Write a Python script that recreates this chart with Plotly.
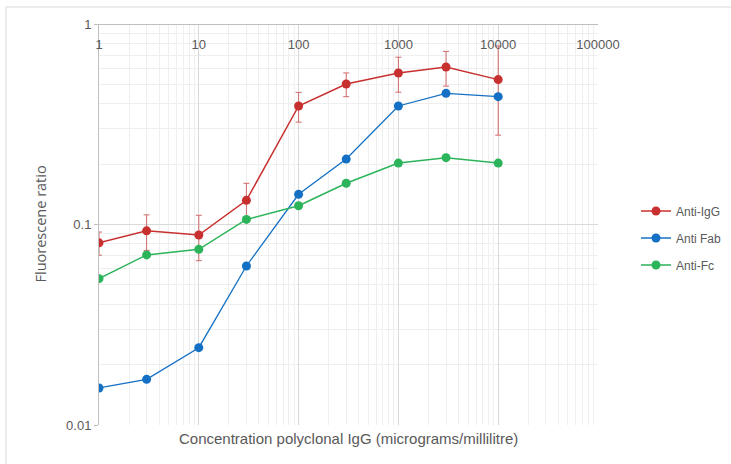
import plotly.graph_objects as go

concentration = [1, 3, 10, 30, 100, 300, 1000, 3000, 10000]
anti_igg = [0.081, 0.093, 0.0886, 0.132, 0.39, 0.502, 0.57, 0.61, 0.528]
anti_igg_err = [0.0107, 0.0187, 0.0226, 0.0285, 0.066, 0.068, 0.113, 0.12, 0.249]
anti_fab = [0.0153, 0.0169, 0.0243, 0.0621, 0.1414, 0.212, 0.390, 0.451, 0.434]
anti_fc = [0.0537, 0.0705, 0.0752, 0.106, 0.124, 0.1605, 0.2025, 0.2155, 0.2025]

x_ticks = [1, 10, 100, 1000, 10000, 100000]
x_tick_labels = ["1", "10", "100", "1000", "10000", "100000"]
y_ticks = [0.01, 0.1, 1]
y_tick_labels = ["0.01", "0.1", "1"]

RED = "#c8302f"
BLUE = "#1470c4"
GREEN = "#2bb45a"

fig = go.Figure()
fig.add_trace(go.Scatter(
    x=concentration, y=anti_igg, name="Anti-IgG", mode="lines+markers",
    line=dict(color=RED, width=1.5), marker=dict(color=RED, size=9),
    error_y=dict(type="data", array=anti_igg_err, visible=True,
                 color="#d06a6a", thickness=1, width=3),
    legendgroup="a",
))
fig.add_trace(go.Scatter(
    x=concentration, y=anti_fab, name="Anti Fab", mode="lines+markers",
    line=dict(color=BLUE, width=1.3), marker=dict(color=BLUE, size=9),
    legendgroup="b",
))
fig.add_trace(go.Scatter(
    x=concentration, y=anti_fc, name="Anti-Fc", mode="lines+markers",
    line=dict(color=GREEN, width=1.5), marker=dict(color=GREEN, size=9),
    legendgroup="c",
))

L, R, T, B = 99, 133, 24, 39
W, H = 731, 464
pw, ph = W - L - R, H - T - B

def px_x(p):
    return (p - L) / pw

def px_y(p):
    return (H - B - p) / ph

fig.update_layout(
    width=W, height=H,
    margin=dict(l=L, r=R, t=T, b=B, autoexpand=False),
    paper_bgcolor="white", plot_bgcolor="white",
    font=dict(family="Liberation Sans", size=13, color="#595959"),
    showlegend=True,
    legend=dict(
        x=px_x(636), y=px_y(238), xanchor="left", yanchor="middle",
        font=dict(size=12, color="#595959"),
        traceorder="grouped", tracegroupgap=8,
        bgcolor="rgba(0,0,0,0)",
    ),
    xaxis=dict(
        type="log", range=[0, 5], side="bottom", anchor="free", position=1,
        automargin=False,
        tickmode="array", tickvals=x_ticks, ticktext=x_tick_labels,
        showline=True, linecolor="#bfbfbf", linewidth=1,
        showgrid=True, gridcolor="#d9d9d9", gridwidth=1,
        ticks="outside", ticklen=8, tickcolor="rgba(0,0,0,0)",
        zeroline=False,
        minor=dict(dtick="D1", showgrid=True, gridcolor="#efefef", ticks=""),
        tickfont=dict(size=13, color="#595959"),
    ),
    yaxis=dict(
        type="log", range=[-2, 0], automargin=False,
        tickmode="array", tickvals=y_ticks, ticktext=y_tick_labels,
        showline=True, linecolor="#bfbfbf", linewidth=1,
        showgrid=True, gridcolor="#d9d9d9", gridwidth=1,
        ticks="outside", ticklen=4, tickcolor="#bfbfbf",
        zeroline=False,
        minor=dict(dtick="D1", showgrid=True, gridcolor="#efefef", ticks=""),
        tickfont=dict(size=13, color="#595959"),
    ),
    annotations=[
        dict(
            text="Concentration polyclonal IgG (micrograms/millilitre)",
            xref="paper", yref="paper", x=0.5, y=px_y(438),
            xanchor="center", yanchor="middle", showarrow=False,
            font=dict(size=15, color="#595959"),
        ),
        dict(
            text="Fluorescene ratio", textangle=-90,
            xref="paper", yref="paper", x=px_x(40), y=0.5,
            xanchor="center", yanchor="middle", showarrow=False,
            font=dict(family="Open Sans", size=14.5, color="#595959"),
        ),
    ],
    shapes=[dict(
        type="rect", xref="paper", yref="paper",
        x0=px_x(6), y0=px_y(7), x1=px_x(735), y1=px_y(470),
        line=dict(color="#d9d9d9", width=1), fillcolor="rgba(0,0,0,0)",
        layer="below",
    )],
)

fig.write_html(
    "out.html",
    config={"displayModeBar": False},
    post_script="document.body.style.margin='0';document.body.style.overflow='hidden';",
)
